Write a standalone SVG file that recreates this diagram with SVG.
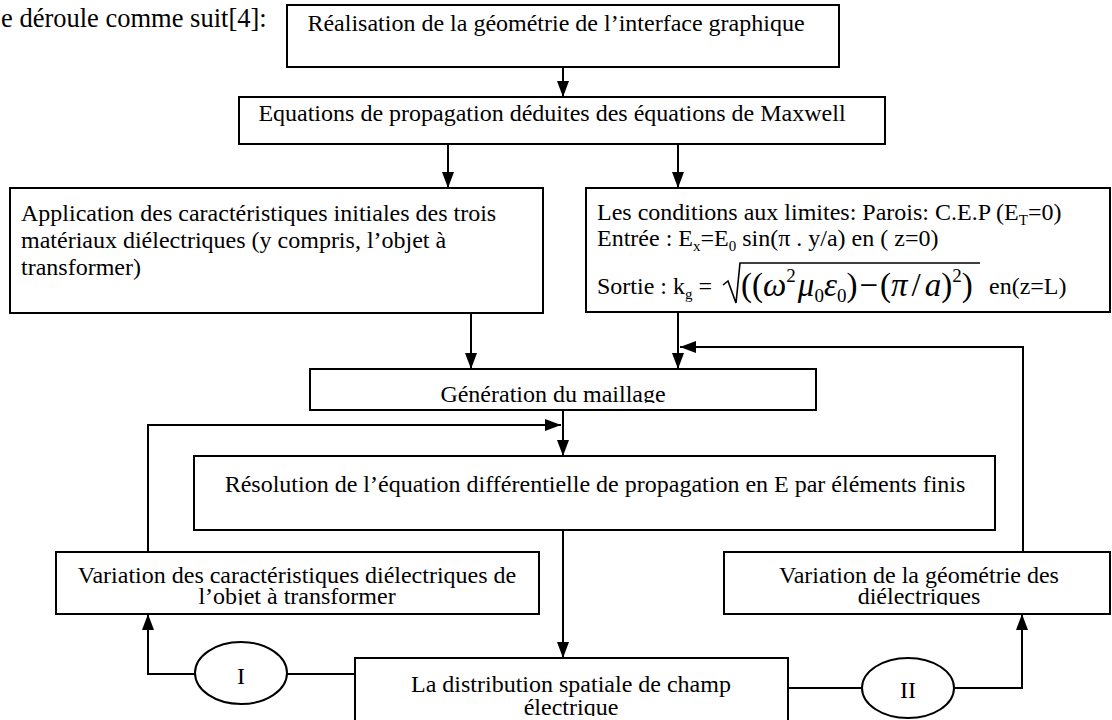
<svg xmlns="http://www.w3.org/2000/svg" width="1112" height="720" viewBox="0 0 1112 720">
<style>
  text { font-family: "Liberation Serif", "Times New Roman", serif; font-size: 24px; fill: #000; }
  .box { fill: #fff; stroke: #000; stroke-width: 2; }
  .c { text-anchor: middle; }
  .wire { fill: none; stroke: #000; stroke-width: 2; }
  .it { font-style: italic; }
  .math { font-size: 33px; }
  .sm { font-size: 19px; }
  .title { font-size: 26.5px; }
</style>
<defs>
  <marker id="arr" viewBox="0 0 16 12" refX="16" refY="6" markerWidth="16" markerHeight="12" markerUnits="userSpaceOnUse" orient="auto">
    <path d="M0,0 L16,6 L0,12 z" fill="#000"/>
  </marker>
  <clipPath id="clipGen"><rect x="310" y="369" width="506" height="34"/></clipPath>
  <clipPath id="clipVarL"><rect x="56" y="552" width="483" height="53"/></clipPath>
  <clipPath id="clipVarR"><rect x="724" y="552" width="386" height="53"/></clipPath>
  <clipPath id="clipDist"><rect x="355" y="658" width="433" height="58"/></clipPath>
</defs>

<g id="intro">
  <text class="title" x="1" y="27">e déroule comme suit[4]:</text>
</g>

<g id="connectors">
  <line class="wire" x1="563" y1="67" x2="563" y2="97" marker-end="url(#arr)"/>
  <line class="wire" x1="448" y1="144" x2="448" y2="188" marker-end="url(#arr)"/>
  <line class="wire" x1="678" y1="144" x2="678" y2="188" marker-end="url(#arr)"/>
  <line class="wire" x1="471" y1="313" x2="471" y2="369" marker-end="url(#arr)"/>
  <line class="wire" x1="678" y1="312" x2="678" y2="369" marker-end="url(#arr)"/>
  <polyline class="wire" points="1023,552 1023,347 680,347" marker-end="url(#arr)"/>
  <line class="wire" x1="563" y1="410" x2="563" y2="456" marker-end="url(#arr)"/>
  <polyline class="wire" points="148,552 148,425 561,425" marker-end="url(#arr)"/>
  <line class="wire" x1="563" y1="530" x2="563" y2="658" marker-end="url(#arr)"/>
  <line class="wire" x1="355" y1="674" x2="287" y2="674"/>
  <polyline class="wire" points="195,674 148,674 148,614" marker-end="url(#arr)"/>
  <line class="wire" x1="788" y1="688" x2="862" y2="688"/>
  <polyline class="wire" points="954,688 1022,688 1022,614" marker-end="url(#arr)"/>
</g>

<g id="n1">
  <rect class="box" x="287" y="5" width="552" height="62"/>
  <text class="c" x="556" y="31">Réalisation de la géométrie de l’interface graphique</text>
</g>

<g id="n2">
  <rect class="box" x="239" y="97" width="646" height="47"/>
  <text class="c" x="552" y="121">Equations de propagation déduites des équations de Maxwell</text>
</g>

<g id="n3">
  <rect class="box" x="10" y="188" width="533" height="125"/>
  <text x="21" y="221">Application des caractéristiques initiales des trois</text>
  <text x="21" y="248">matériaux diélectriques (y compris, l’objet à</text>
  <text x="21" y="275">transformer)</text>
</g>

<g id="n4">
  <rect class="box" x="586" y="188" width="524" height="124"/>
  <text x="597" y="220">Les conditions aux limites: Parois: C.E.P (E<tspan font-size="15" dy="5">T</tspan><tspan dy="-5">=0)</tspan></text>
  <text x="597" y="246">Entrée : E<tspan font-size="15" dy="5">x</tspan><tspan dy="-5">=E</tspan><tspan font-size="15" dy="5">0</tspan><tspan dy="-5"> sin(π . y/a) en ( z=0)</tspan></text>
  <text x="597" y="294">Sortie : k<tspan font-size="15" dy="5">g</tspan><tspan dy="-5"> = </tspan></text>
  <polyline points="723,285 728,281 736,303 740,263 980,263" fill="none" stroke="#000" stroke-width="1.6"/>
  <text class="math" x="741" y="296">((<tspan class="it">ω</tspan><tspan class="sm" dy="-14">2</tspan><tspan class="it" dx="2" dy="14">μ</tspan><tspan class="sm" dy="6">0</tspan><tspan class="it" dy="-6">ε</tspan><tspan class="sm" dy="6">0</tspan><tspan dy="-6">)</tspan><tspan dx="2">−</tspan><tspan dx="2">(</tspan><tspan class="it">π</tspan><tspan dx="4">/</tspan><tspan class="it" dx="4">a</tspan><tspan>)</tspan><tspan class="sm" dy="-14">2</tspan><tspan dy="14">)</tspan></text>
  <text x="989" y="294">en(z=L)</text>
</g>

<g id="n5">
  <rect class="box" x="310" y="369" width="506" height="41"/>
  <text class="c" x="553" y="402" clip-path="url(#clipGen)">Génération du maillage</text>
</g>

<g id="n6">
  <rect class="box" x="194" y="456" width="801" height="74"/>
  <text class="c" x="595" y="492">Résolution de l’équation différentielle de propagation en E par éléments finis</text>
</g>

<g id="n7">
  <rect class="box" x="56" y="552" width="483" height="62"/>
  <g clip-path="url(#clipVarL)">
    <text class="c" x="297" y="583">Variation des caractéristiques diélectriques de</text>
    <text class="c" x="297" y="604">l’objet à transformer</text>
  </g>
</g>

<g id="n8">
  <rect class="box" x="724" y="552" width="386" height="62"/>
  <g clip-path="url(#clipVarR)">
    <text class="c" x="919" y="583">Variation de la géométrie des</text>
    <text class="c" x="919" y="604">diélectriques</text>
  </g>
</g>

<g id="n9">
  <rect class="box" x="355" y="658" width="433" height="70"/>
  <g clip-path="url(#clipDist)">
    <text class="c" x="571" y="692">La distribution spatiale de champ</text>
    <text class="c" x="571" y="715">électrique</text>
  </g>
</g>

<g id="e1">
  <ellipse class="box" cx="241" cy="673" rx="46" ry="31"/>
  <text class="c" x="241" y="684">I</text>
</g>

<g id="e2">
  <ellipse class="box" cx="908" cy="688" rx="46" ry="30"/>
  <text class="c" x="908" y="698">II</text>
</g>
</svg>
